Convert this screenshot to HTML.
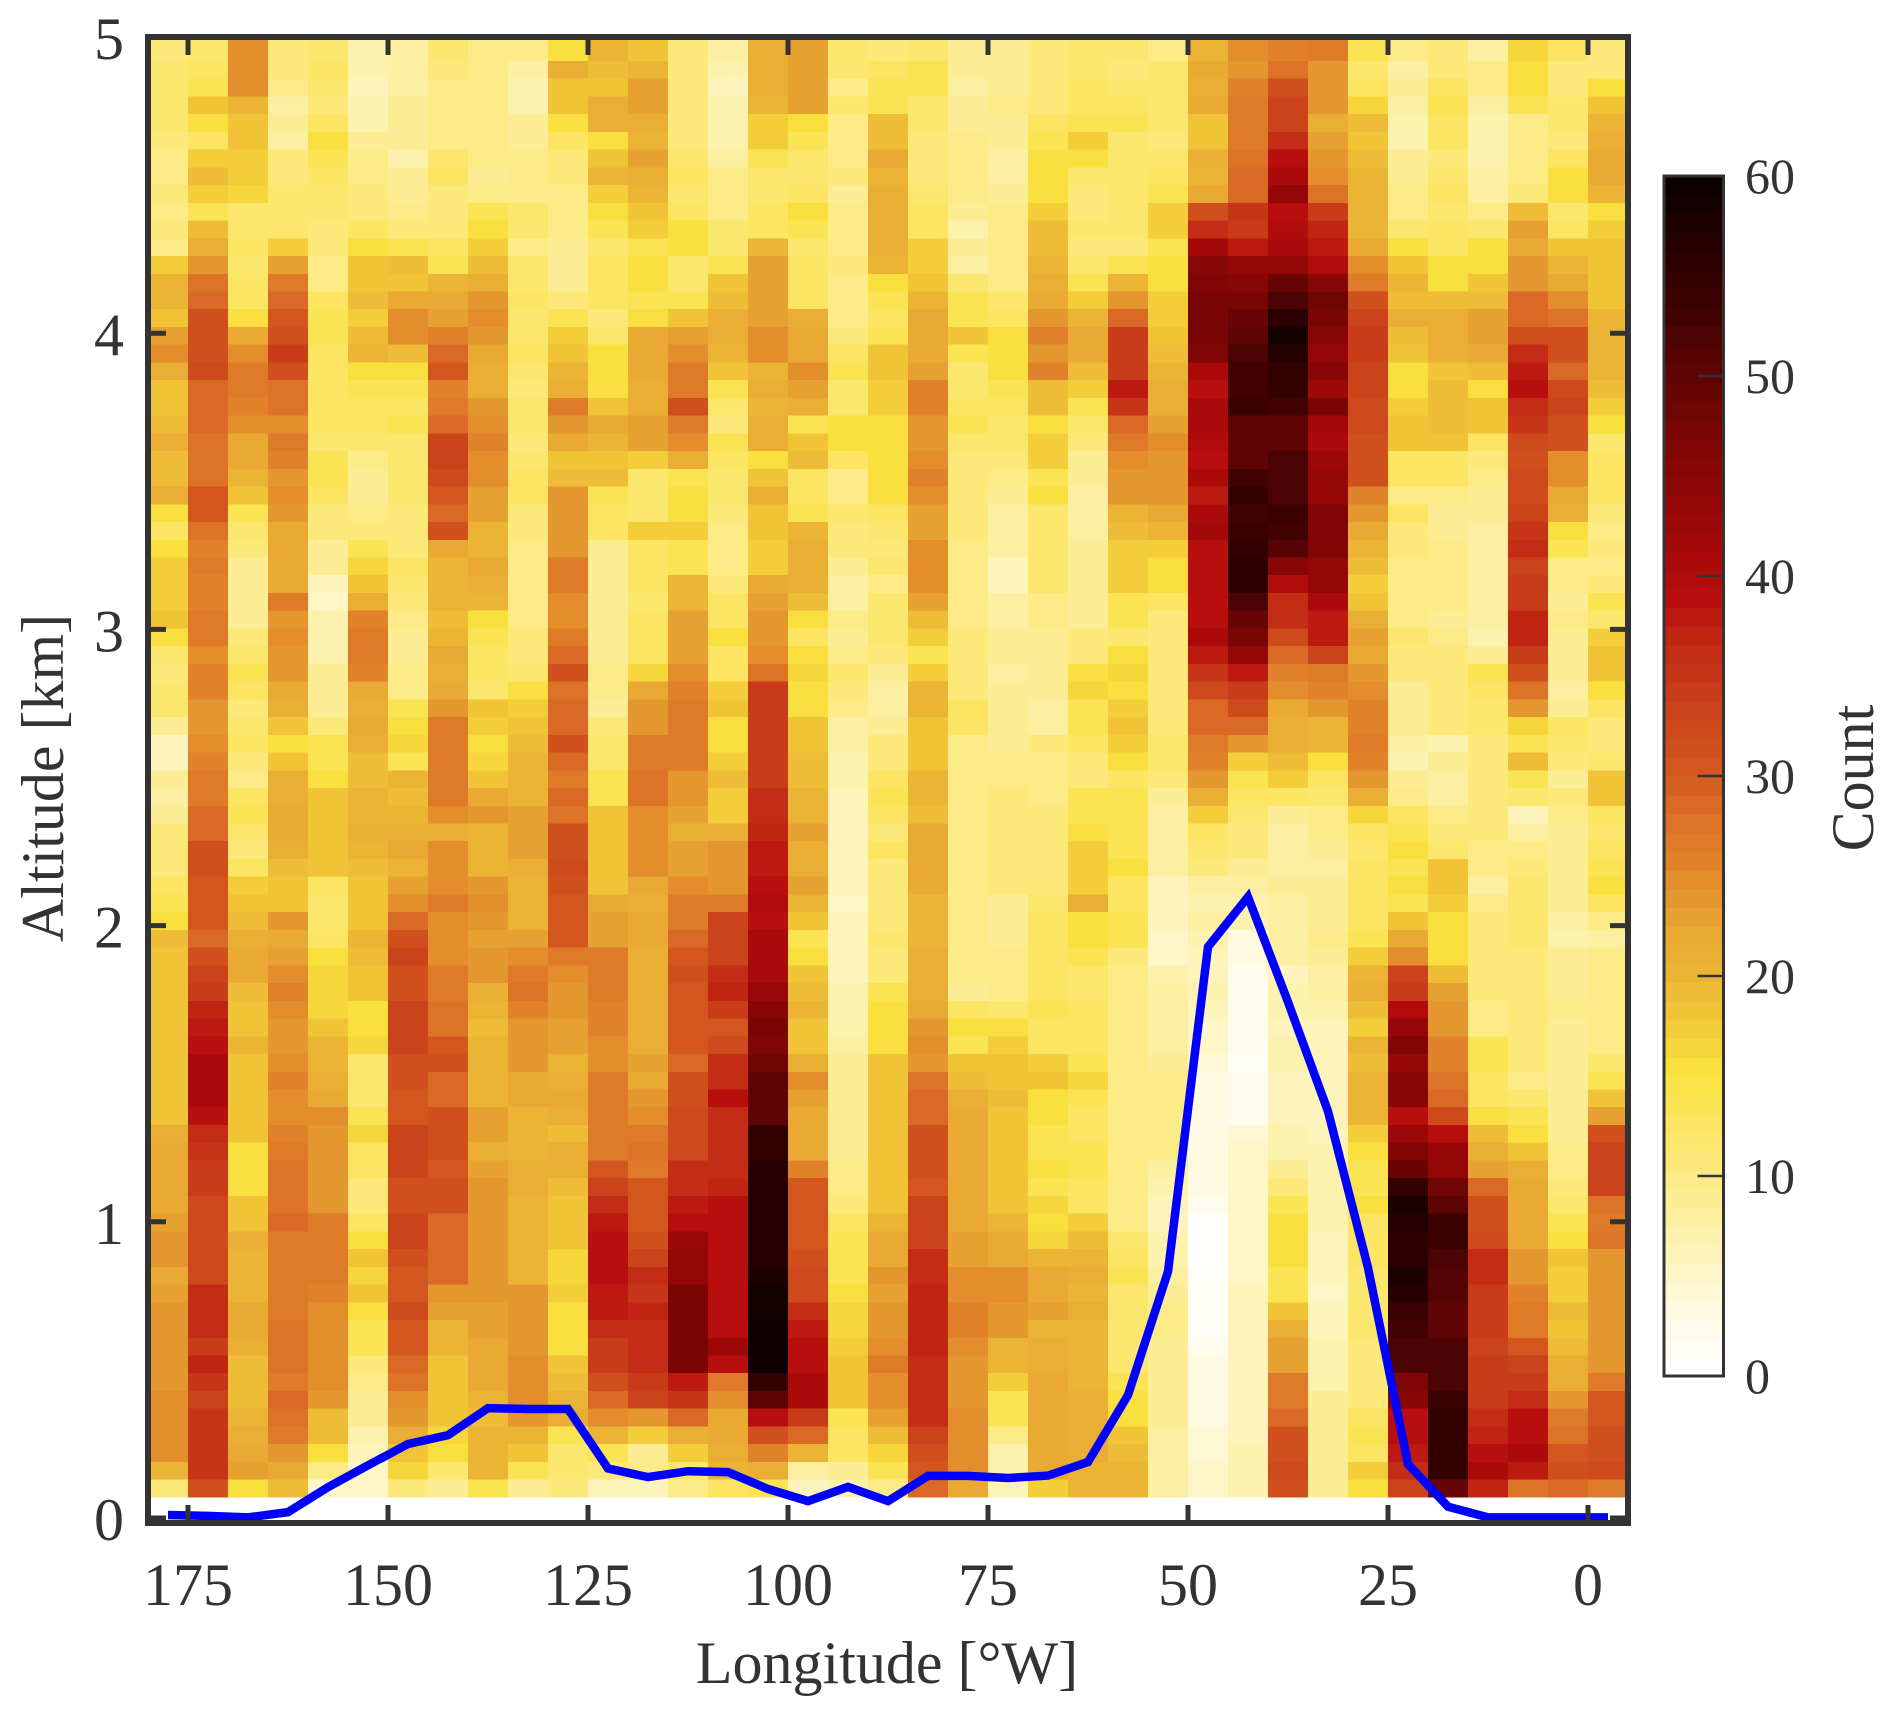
<!DOCTYPE html>
<html lang="en">
<head>
<meta charset="utf-8">
<title>Longitude-altitude count heatmap</title>
<style>
html,body{margin:0;padding:0;background:#fff;}
body{width:1892px;height:1715px;overflow:hidden;}
svg{display:block;}
text{font-family:"Liberation Serif",serif;fill:#333;}
</style>
</head>
<body>
<svg id="chart" xmlns="http://www.w3.org/2000/svg" width="1892" height="1715" viewBox="0 0 1892 1715">
  <g id="cells" shape-rendering="crispEdges"></g>
  <path id="terrain" fill="none" stroke="#0000ff" stroke-width="8.5" stroke-linejoin="miter"></path>
  <g id="frame"></g>
  <g id="xticks"></g>
  <g id="yticks"></g>
  <text x="887" y="1683" font-size="60" text-anchor="middle">Longitude [°W]</text>
  <text transform="translate(63 778) rotate(-90)" font-size="60" text-anchor="middle">Altitude [km]</text>
  <g id="colorbar"></g>
  <text transform="translate(1873 778) rotate(-90)" font-size="60" text-anchor="middle">Count</text>
</svg>
<script>
const xTickLabels = [175,150,125,100,75,50,25,0];
const yTickLabels = [0,1,2,3,4,5];
const colorbarTicks = [0,10,20,30,40,50,60];
const columnLon = [177.5,172.5,167.5,162.5,157.5,152.5,147.5,142.5,137.5,132.5,127.5,122.5,117.5,112.5,107.5,102.5,97.5,92.5,87.5,82.5,77.5,72.5,67.5,62.5,57.5,52.5,47.5,42.5,37.5,32.5,27.5,22.5,17.5,12.5,7.5,2.5,-2.5];
const terrainKm = [0.01,0.007,0.002,0.02,0.104,0.178,0.25,0.28,0.371,0.368,0.368,0.167,0.138,0.158,0.155,0.098,0.057,0.105,0.057,0.142,0.142,0.135,0.143,0.189,0.415,0.832,1.928,2.097,1.742,1.373,0.845,0.182,0.038,0.002,0.002,0.002,0.002];
const counts = [
[11,12,12,12,12,11,10,10,11,10,11,10,17,20,20,18,23,25,21,18,18,19,21,19,19,21,15,13,15,17,17,17,18,15,12,11,12,12,9,6,6,9,8,9,11,11,11,13,14,15,19,18,18,18,18,18,18,18,18,18,18,21,22,22,22,22,23,24,24,22,23,24,24,24,24,24,25,25,25,25,20,11],
[12,13,14,18,15,13,17,19,17,14,19,21,24,28,29,31,31,31,32,29,29,29,28,28,28,30,30,28,26,27,26,26,27,27,25,26,26,24,24,25,26,27,27,29,29,31,31,30,30,30,29,31,33,34,37,38,39,41,41,41,39,36,35,34,34,32,32,32,32,32,36,36,36,34,37,35,33,35,35,35,35,31],
[25,25,25,20,18,18,17,17,16,12,12,13,12,13,13,15,22,25,27,27,26,25,22,22,20,18,14,12,11,9,9,9,9,11,12,14,13,11,12,13,11,10,13,14,12,11,13,17,18,19,21,22,22,19,18,18,20,18,18,18,18,18,15,15,15,18,18,21,20,20,20,22,22,21,19,19,19,20,21,22,23,15],
[11,11,10,8,9,8,11,11,12,12,12,17,23,27,29,30,31,34,31,28,28,25,27,26,24,25,24,22,22,22,22,27,24,25,24,24,22,21,18,15,18,21,21,22,22,21,19,18,18,24,22,23,25,26,25,24,24,25,26,25,25,26,27,28,28,28,29,27,27,27,27,27,28,28,28,27,29,28,27,24,22,19],
[12,13,12,11,13,15,14,13,12,12,11,11,10,10,13,14,14,13,13,13,13,13,12,14,14,13,11,11,9,9,6,5,7,7,7,9,9,9,11,14,14,15,18,18,18,18,18,13,12,12,13,15,16,16,16,18,20,20,21,22,25,24,24,24,24,24,27,27,27,27,26,25,25,25,25,25,24,19,19,15,10,5],
[7,7,6,7,7,9,10,10,11,11,13,15,18,18,19,17,19,20,15,14,13,13,12,10,9,9,10,11,14,16,18,21,26,27,27,26,22,21,22,21,19,19,20,20,21,20,19,18,18,18,20,19,18,18,15,15,16,12,12,12,14,16,13,13,11,11,13,15,18,16,18,15,14,14,11,10,9,9,7,6,5,5],
[8,8,8,9,9,9,7,9,9,10,11,14,19,18,22,25,25,19,15,14,13,14,12,12,12,12,11,11,11,13,12,11,10,9,9,10,10,14,15,16,14,20,19,20,21,22,20,23,25,29,31,33,31,31,33,33,33,31,31,30,30,33,33,33,31,31,33,33,31,30,30,32,30,30,29,28,25,24,21,18,16,11],
[12,11,10,10,10,10,12,13,11,11,11,13,14,20,22,23,26,29,30,26,27,29,33,33,32,30,29,31,22,20,20,20,19,20,22,21,22,24,27,27,27,27,27,25,21,25,25,25,27,25,25,25,27,27,28,28,30,31,29,29,31,31,31,30,31,31,29,29,29,29,24,23,20,20,18,18,18,18,16,15,12,9],
[10,10,10,10,10,10,10,9,10,14,15,17,19,21,24,25,24,22,21,21,24,25,26,25,25,23,23,20,20,22,21,20,15,14,13,13,12,18,17,15,16,18,22,24,20,20,20,24,25,24,23,24,24,21,20,19,20,20,20,20,23,23,21,23,24,24,24,24,24,24,24,23,23,22,22,22,20,19,20,20,20,14],
[10,8,7,7,9,9,10,10,10,12,12,10,12,12,13,12,12,13,12,11,12,12,11,12,13,13,11,11,10,10,10,10,10,11,11,12,15,17,18,19,20,20,20,23,23,23,21,20,20,20,23,25,27,28,26,24,24,24,22,22,20,20,20,21,21,20,20,20,20,20,24,24,24,24,25,25,25,24,20,18,14,9],
[15,21,18,18,15,13,11,11,10,10,10,9,9,9,11,14,17,18,20,21,27,24,22,18,19,24,24,24,24,27,27,25,25,27,29,31,28,29,29,31,29,27,29,28,31,31,32,31,30,30,30,27,25,24,24,23,23,20,21,22,21,19,21,21,19,18,18,18,16,16,17,15,15,15,18,19,20,21,14,12,12,11],
[20,19,18,21,21,15,18,20,17,15,14,12,13,13,13,11,12,15,15,15,18,22,20,18,19,14,13,13,9,9,9,9,9,9,9,10,10,9,11,12,12,14,14,18,18,18,18,18,22,23,23,27,27,27,26,26,25,25,27,27,27,27,27,30,33,36,38,39,39,39,38,38,36,34,34,31,29,25,20,14,11,6],
[18,20,23,23,21,20,23,21,20,18,17,14,15,15,14,15,22,22,22,21,21,23,23,17,12,12,12,17,13,13,13,12,13,13,13,16,22,24,24,27,27,28,28,25,25,25,25,22,21,22,22,21,21,21,21,21,21,23,22,24,25,27,28,27,30,30,30,31,33,36,35,37,36,36,36,34,33,24,17,9,10,6],
[11,11,11,11,11,11,12,13,12,13,15,15,12,12,14,18,23,25,27,27,31,27,25,21,14,15,15,17,14,14,20,20,23,23,23,25,26,27,27,27,27,24,24,23,21,23,23,25,27,27,29,30,31,30,30,30,30,29,31,31,32,32,32,36,36,38,39,43,44,44,47,47,47,47,47,38,35,29,21,17,12,10],
[8,7,6,7,7,7,8,10,10,10,12,12,14,18,19,21,21,20,18,14,12,11,14,13,12,12,11,10,10,10,11,13,13,15,13,13,17,18,15,15,17,19,17,17,21,24,24,24,27,33,33,33,36,37,34,30,32,36,36,39,36,36,36,36,37,39,39,39,39,39,39,39,39,43,39,27,25,22,22,21,20,13],
[21,21,21,20,17,17,14,12,12,13,13,20,23,23,23,23,25,25,20,21,20,21,21,15,18,21,18,18,17,17,22,23,24,24,25,28,34,34,34,34,34,34,36,36,37,38,38,39,40,39,41,41,41,43,45,47,46,48,50,50,50,55,55,57,57,57,57,57,57,58,59,59,60,60,60,55,50,39,31,26,21,14],
[23,23,23,23,15,14,12,12,13,15,14,12,13,13,13,21,22,22,25,23,21,14,18,19,13,13,14,20,21,21,21,19,15,13,15,16,15,15,18,18,19,19,20,20,23,21,21,23,20,18,14,15,18,19,20,18,18,21,25,23,22,22,22,26,30,30,30,30,31,32,32,36,38,39,39,41,41,34,29,20,8,6],
[12,12,10,12,10,10,10,11,9,10,10,10,11,10,10,10,11,13,14,12,12,15,15,13,10,10,12,11,11,9,8,8,10,9,10,12,11,10,8,8,7,7,6,6,6,6,6,6,5,6,6,6,6,7,7,7,8,9,9,9,9,9,9,10,10,11,13,14,14,14,15,16,16,17,18,18,18,14,13,13,9,7],
[11,13,14,14,19,19,22,20,21,21,21,21,20,15,14,13,14,18,18,17,17,15,15,15,15,15,13,12,11,12,10,12,12,12,11,9,8,8,9,11,11,13,14,13,11,13,11,11,11,11,12,11,11,14,15,15,15,18,18,18,18,18,18,18,18,18,20,22,22,24,23,24,24,25,27,25,25,23,19,16,14,10],
[12,14,14,12,12,11,11,11,12,13,13,17,17,18,20,22,22,22,23,26,26,24,24,25,26,25,23,23,25,25,25,23,19,17,14,17,20,20,18,18,18,20,20,19,22,22,22,22,20,20,20,21,21,21,22,24,25,24,28,29,29,31,31,31,30,33,33,33,36,36,37,37,37,37,36,36,36,36,33,31,30,29],
[9,9,8,9,9,10,10,10,10,9,7,9,8,12,14,14,18,14,12,12,13,14,12,11,11,11,11,11,10,10,10,10,10,11,11,11,11,13,13,10,10,10,10,10,10,10,10,10,10,10,10,10,10,9,13,15,14,18,19,21,22,22,22,22,22,22,22,23,23,25,25,26,26,25,24,24,24,25,25,25,25,22],
[9,9,9,10,9,9,8,8,9,10,10,10,10,10,12,13,15,15,15,14,13,12,12,11,10,9,8,8,8,6,6,8,8,9,9,8,9,9,9,9,10,10,11,11,11,11,11,11,9,9,9,10,10,10,12,15,17,18,18,19,18,18,18,18,18,18,20,22,22,25,25,24,24,20,20,17,14,14,10,7,7,6],
[11,11,11,11,13,14,15,15,15,17,19,19,20,21,22,24,26,24,26,19,19,15,17,17,14,15,12,12,12,12,12,10,10,9,9,9,9,8,8,11,10,10,10,11,11,11,11,11,12,13,13,13,13,13,14,13,13,17,18,15,15,14,14,15,14,16,15,16,20,22,22,23,20,21,21,22,22,22,22,22,22,17],
[12,12,13,13,14,17,15,12,11,11,12,11,12,14,17,20,22,22,19,17,14,12,11,9,9,8,8,8,9,9,9,9,9,11,11,15,16,14,14,13,11,11,14,14,15,17,17,17,21,15,15,14,12,12,13,13,13,14,16,14,13,13,14,14,13,13,17,19,20,21,20,21,20,20,20,20,21,21,21,21,20,20],
[12,11,12,13,14,12,12,12,12,12,12,11,14,20,24,29,34,34,34,38,35,29,27,25,24,24,20,19,17,17,17,14,14,12,15,16,15,17,18,17,15,13,14,14,14,14,15,13,13,14,14,11,10,10,10,10,10,10,10,10,10,10,10,10,10,10,10,12,13,14,12,12,12,12,12,14,15,15,18,19,20,20],
[10,12,12,12,12,11,12,13,14,17,17,14,15,15,17,17,18,19,20,21,21,23,25,24,24,24,22,20,17,15,15,13,11,11,11,11,11,11,11,12,12,11,9,8,8,8,8,6,6,6,5,5,7,8,8,8,8,9,10,10,10,10,10,8,7,6,6,7,7,8,9,10,10,9,9,9,9,9,8,8,8,8],
[20,22,21,22,18,18,21,20,22,31,36,42,45,46,47,47,47,46,41,39,41,41,40,39,41,38,41,42,39,39,39,39,39,41,38,35,32,29,29,27,26,24,21,17,13,12,11,8,7,8,7,6,6,7,6,5,5,4,3,3,3,3,3,3,3,2,0,0,0,1,1,1,1,2,3,3,3,3,4,4,5,5],
[25,24,26,27,27,27,28,29,29,35,34,38,44,45,47,49,50,52,53,53,54,50,50,50,53,55,53,54,55,56,56,52,49,47,44,38,34,32,29,24,17,14,13,12,11,11,9,8,7,7,3,3,2,2,2,2,2,1,2,2,2,4,5,5,5,5,5,5,5,5,6,6,6,6,6,6,6,6,6,7,7,7],
[26,28,31,33,33,36,39,41,44,39,40,41,44,49,52,56,59,57,55,55,53,50,50,52,52,52,54,53,51,45,40,36,36,32,29,26,25,22,21,21,19,17,13,9,8,8,8,9,8,8,8,8,6,7,7,6,7,7,6,6,6,7,7,9,11,14,15,15,15,14,14,18,21,23,23,27,27,29,31,31,32,31],
[27,24,24,24,21,23,24,25,28,34,37,38,40,45,48,47,45,44,45,43,47,42,41,43,44,44,46,46,46,44,44,41,38,38,33,27,26,24,20,20,15,13,12,10,10,9,8,9,9,9,10,9,8,8,7,6,6,6,6,6,6,6,7,7,7,7,7,6,6,6,5,6,6,7,7,7,9,9,9,9,9,9],
[14,12,13,16,19,18,19,20,20,20,20,22,25,27,31,33,34,34,33,33,32,32,31,31,31,26,24,22,20,19,17,18,21,23,22,24,25,26,26,27,26,24,21,16,13,12,13,13,13,13,14,17,20,21,19,17,20,19,20,20,20,17,15,14,14,15,13,13,13,12,12,12,12,11,11,11,11,13,14,13,17,15],
[10,8,9,8,7,7,9,9,10,10,12,15,18,20,19,21,19,18,15,15,17,18,18,13,13,10,13,11,11,10,10,10,10,12,11,11,9,9,9,8,7,9,10,13,14,15,14,15,14,18,22,25,33,34,40,44,46,44,45,45,39,43,46,49,55,58,57,56,56,58,57,54,53,52,52,46,45,39,39,38,36,33],
[11,11,13,14,13,13,11,12,13,12,13,13,15,15,19,21,21,21,18,19,19,19,18,13,13,10,9,9,10,10,10,10,9,10,11,11,11,11,11,7,9,8,8,10,11,12,18,18,17,15,15,15,19,23,24,24,26,26,28,29,32,39,44,44,48,50,54,54,52,51,51,50,50,52,52,52,54,55,55,55,55,49],
[8,10,10,8,7,7,7,8,8,10,12,15,15,18,19,23,23,22,19,15,18,18,13,11,10,9,9,8,8,8,8,8,8,7,9,14,13,12,12,11,11,11,11,11,11,10,10,8,10,11,11,11,11,11,10,10,14,14,13,13,15,19,21,23,29,31,31,32,36,36,34,34,34,33,34,34,34,36,37,39,41,37],
[16,15,15,14,10,10,10,10,11,19,23,22,24,24,29,29,31,36,38,39,36,35,32,31,32,32,33,35,36,33,34,34,37,37,34,31,28,24,16,14,19,14,12,6,8,10,11,12,12,12,12,11,11,11,11,11,11,11,10,12,14,15,18,21,22,22,22,22,24,24,26,27,27,30,33,34,36,39,39,41,38,28],
[13,11,11,12,12,11,13,15,15,12,13,18,20,22,25,28,31,31,29,32,33,31,31,25,25,22,21,15,14,10,10,9,10,9,9,9,8,9,13,12,11,9,11,10,9,9,9,9,9,8,7,9,9,9,10,9,9,9,9,9,9,9,10,10,11,12,14,15,18,17,17,19,18,19,21,21,24,27,28,30,31,29],
[11,11,15,18,20,21,22,22,20,15,17,18,18,18,18,20,20,20,20,19,17,15,12,13,13,13,11,10,11,10,11,14,12,17,18,18,15,13,11,11,12,18,18,13,12,13,14,15,13,10,8,10,10,10,10,10,10,12,14,18,23,31,33,33,33,28,27,28,24,24,24,24,24,24,24,27,30,30,31,31,32,27]
];

const NS = 'http://www.w3.org/2000/svg';
const cmapValues = [0,1,2.5,5,7.5,10.2,12.5,14,15.5,17.5,20,22.5,26,28,30,33,35,37,39,41,44,47,50,53,56,60];
const cmapColors = ['#ffffff','#fffefa','#fffced','#fef6c8','#fdf0a8','#fcea82','#fbe564','#fbe44e','#fae03e','#f3cb3a','#ecb535','#e8a632','#e0802a','#dc7026','#d3591f','#cc451a','#c73618','#c02412','#b80e0e','#a80a0a','#920707','#7c0505','#600404','#430202','#2a0000','#0a0000'];
const LEVELS = 64, VMAX = 60;

function xScale(lon){ return 1588 - 8 * lon; }
function yScale(km){ return 1518 - 296.2 * km; }
function cbScale(v){ return 1376 - 20 * v; }
function hexToRgb(h){ return [parseInt(h.substr(1,2),16),parseInt(h.substr(3,2),16),parseInt(h.substr(5,2),16)]; }
function cmap(v){
  let i = 0;
  while(i < cmapValues.length - 2 && v > cmapValues[i+1]) i++;
  const t = Math.max(0, Math.min(1, (v - cmapValues[i]) / (cmapValues[i+1] - cmapValues[i])));
  const a = hexToRgb(cmapColors[i]), b = hexToRgb(cmapColors[i+1]);
  return 'rgb(' + a.map((c,k) => Math.round(c + (b[k]-c)*t)).join(',') + ')';
}
function levelColor(v){
  const idx = Math.min(LEVELS - 1, Math.max(0, Math.floor(v / VMAX * LEVELS)));
  return cmap((idx + 0.5) * VMAX / LEVELS);
}
function make(tag, attrs, parent, txt){
  const el = document.createElementNS(NS, tag);
  for(const k in attrs) el.setAttribute(k, attrs[k]);
  if(txt !== undefined) el.textContent = txt;
  parent.appendChild(el);
  return el;
}

/* heatmap cells */
const cellsG = document.getElementById('cells');
const HEAT_TOP_KM = 4.979, ROW_KM = 0.05987, COL_DEG = 5;
counts.forEach(function(col, c){
  col.forEach(function(v, r){
    const x0 = xScale(columnLon[c] + COL_DEG/2), x1 = xScale(columnLon[c] - COL_DEG/2);
    const top = r === 0 ? yScale(5) : yScale(HEAT_TOP_KM - r * ROW_KM);
    const bot = yScale(HEAT_TOP_KM - (r + 1) * ROW_KM);
    const rect = make('rect', {x:x0, y:top, width:x1 - x0 + 0.5, height:bot - top + 0.2, fill:levelColor(v)}, cellsG);
    
    
  });
});

/* terrain line */
document.getElementById('terrain').setAttribute('d', terrainKm.map(function(k,i){
  return (i ? 'L' : 'M') + xScale(columnLon[i]).toFixed(1) + ' ' + yScale(k).toFixed(1);
}).join(' '));

/* frame */
const LEFT = xScale(180), RIGHT = xScale(-5), TOP = yScale(5), BOTTOM = 1523;
const frameEl = make('rect', {x:LEFT, y:TOP, width:RIGHT-LEFT, height:BOTTOM-TOP, fill:'none', stroke:'#333', 'stroke-width':6}, document.getElementById('frame'));



/* x axis */
const xG = document.getElementById('xticks');
xTickLabels.forEach(function(l){
  const x = xScale(l);
  const t1 = make('line', {x1:x, x2:x, y1:BOTTOM, y2:BOTTOM-18, stroke:'#333', 'stroke-width':5}, xG);
  
  
  const t2 = make('line', {x1:x, x2:x, y1:TOP, y2:TOP+18, stroke:'#333', 'stroke-width':5}, xG);
  
  
  const lab = make('text', {x:x, y:1605, 'font-size':60, 'text-anchor':'middle'}, xG, String(l));
  
  
});

/* y axis */
const yG = document.getElementById('yticks');
yTickLabels.forEach(function(l){
  const y = yScale(l);
  const t1 = make('line', {x1:LEFT, x2:LEFT+18, y1:y, y2:y, stroke:'#333', 'stroke-width':5}, yG);
  
  
  const t2 = make('line', {x1:RIGHT, x2:RIGHT-18, y1:y, y2:y, stroke:'#333', 'stroke-width':5}, yG);
  
  
  const lab = make('text', {x:124, y:y+22, 'font-size':60, 'text-anchor':'end'}, yG, String(l));
  
  
});

/* colorbar */
const cbG = document.getElementById('colorbar');
const CB_L = 1664, CB_R = 1723.5;
for(let i = 0; i < LEVELS; i++){
  const v0 = i * VMAX / LEVELS, v1 = (i + 1) * VMAX / LEVELS;
  const seg = make('rect', {x:CB_L, y:cbScale(v1), width:CB_R-CB_L, height:cbScale(v0)-cbScale(v1)+0.5, fill:levelColor(v0), 'shape-rendering':'crispEdges'}, cbG);
  
  
}
const cbFrame = make('rect', {x:CB_L, y:cbScale(60), width:CB_R-CB_L, height:cbScale(0)-cbScale(60), fill:'none', stroke:'#333', 'stroke-width':3}, cbG);


colorbarTicks.forEach(function(v){
  const y = cbScale(v);
  if(v > 0 && v < 60){
    const t = make('line', {x1:CB_R, x2:CB_R-26, y1:y, y2:y, stroke:'#333', 'stroke-width':2.5}, cbG);
    
    
  }
  const lab = make('text', {x:1745, y:y+17, 'font-size':50}, cbG, String(v));
  
  
});
</script>
</body>
</html>
